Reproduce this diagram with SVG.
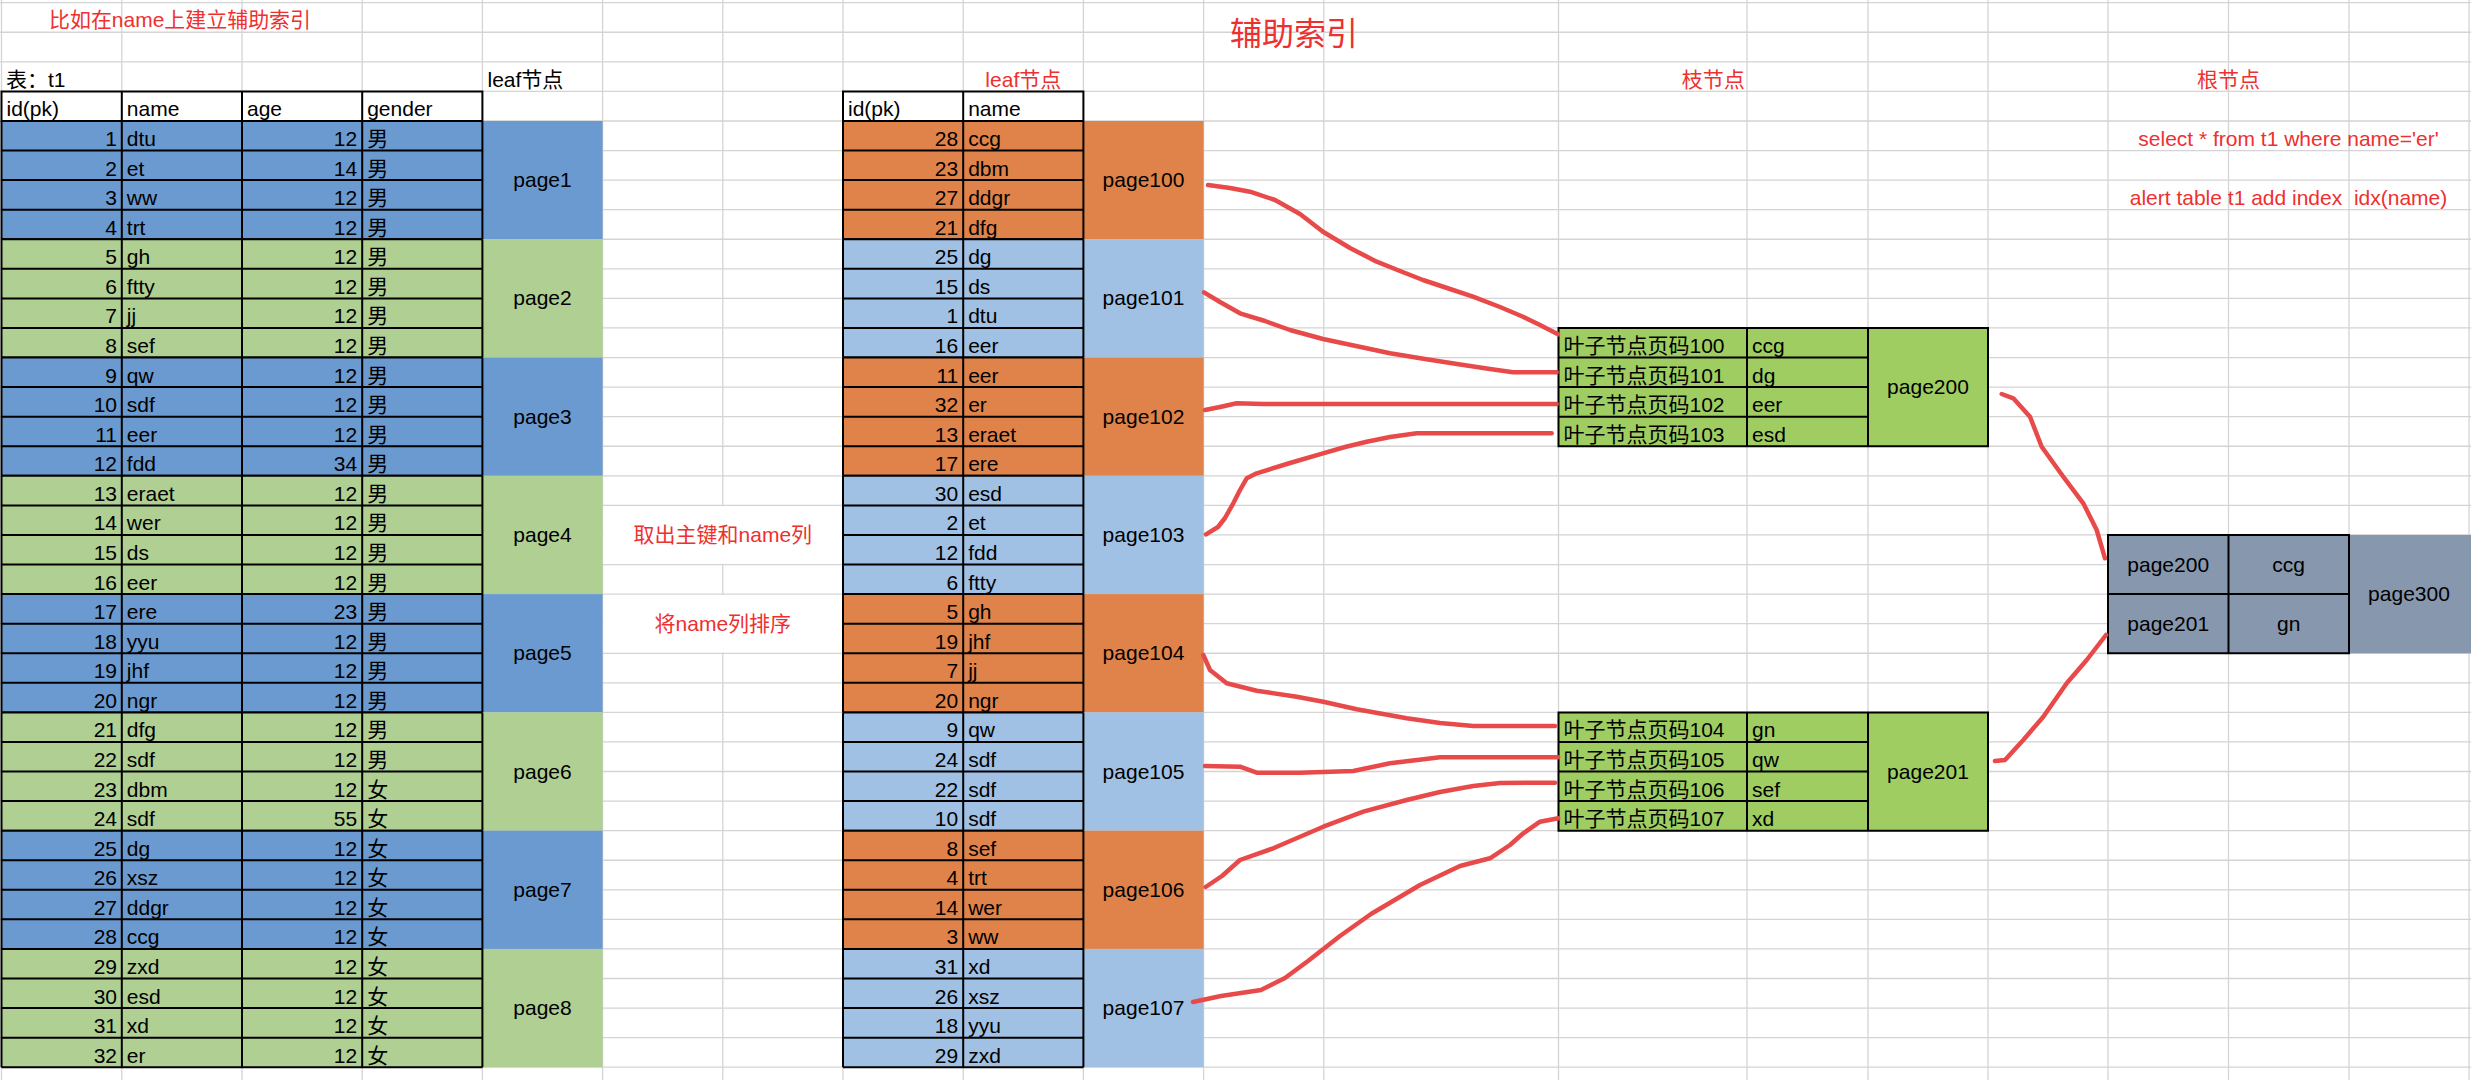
<svg xmlns="http://www.w3.org/2000/svg" xmlns:xlink="http://www.w3.org/1999/xlink" width="2471" height="1080" viewBox="0 0 2471 1080">
<style>
.grid{stroke:#d4d4d4;stroke-width:1.3;fill:none}
.b{stroke:#000;stroke-width:2;fill:none}
text{font-family:"Liberation Sans","Noto Sans CJK SC",sans-serif;font-size:21px;fill:#000}
.e{text-anchor:end}
.m{text-anchor:middle}
.red{fill:#ee3030}
.blue{fill:#6a9acf}
.green{fill:#afcf93}
.orange{fill:#e0834a}
.lblue{fill:#a1c1e4}
.bgreen{fill:#9fcd62}
.gray{fill:#8697ae}
.con{fill:none;stroke:#e84a4a;stroke-width:4.5;stroke-linecap:round;stroke-linejoin:round}
</style>
<defs>
<path id="bl" class="b" d="M1.5,0H482.4M1.5,29.57H482.4M1.5,59.14H482.4M1.5,88.71H482.4M1.5,118.28H482.4M1.5,0V118.28M121.8,0V118.28M242,0V118.28M362.2,0V118.28M482.4,0V118.28"/>
<path id="bf" class="b" d="M843,0H1083.4M843,29.57H1083.4M843,59.14H1083.4M843,88.71H1083.4M843,118.28H1083.4M843,0V118.28M963.2,0V118.28M1083.4,0V118.28"/>
<path id="bb" class="b" d="M1558.5,0H1988V118.28H1558.5ZM1558.5,29.57H1868M1558.5,59.14H1868M1558.5,88.71H1868M1747,0V118.28M1868,0V118.28"/>
</defs>
<rect width="2471" height="1080" fill="#fff"/>
<g id="grid">
<path class="grid" d="M1.5,0V1080M121.8,0V1080M242,0V1080M362.2,0V1080M482.4,0V1080M602.6,0V1080M722.8,0V1080M843,0V1080M963.2,0V1080M1083.4,0V1080M1203.6,0V1080M1323.8,0V1080M1558.5,0V1080M1747,0V1080M1868,0V1080M1988,0V1080M2108,0V1080M2228.5,0V1080M2349,0V1080M2469,0V1080"/>
<path class="grid" d="M0,2.7H2471M0,32.27H2471M0,61.84H2471M0,91.41H2471M0,120.98H2471M0,150.55H2471M0,180.12H2471M0,209.69H2471M0,239.26H2471M0,268.83H2471M0,298.4H2471M0,327.97H2471M0,357.54H2471M0,387.11H2471M0,416.68H2471M0,446.25H2471M0,475.82H2471M0,505.39H2471M0,534.96H2471M0,564.53H2471M0,594.1H2471M0,623.67H2471M0,653.24H2471M0,682.81H2471M0,712.38H2471M0,741.95H2471M0,771.52H2471M0,801.09H2471M0,830.66H2471M0,860.23H2471M0,889.8H2471M0,919.37H2471M0,948.94H2471M0,978.51H2471M0,1008.08H2471M0,1037.65H2471M0,1067.22H2471"/>
<rect x="603.4" y="506.2" width="238.8" height="57.6" fill="#fff"/>
<rect x="603.4" y="594.9" width="238.8" height="57.6" fill="#fff"/>
</g>
<g id="labels">
<text class="red" x="49" y="27" font-size="22" textLength="262" lengthAdjust="spacingAndGlyphs">比如在name上建立辅助索引</text>
<text class="red m" x="1294" y="45" style="font-size:32px">辅助索引</text>
<text x="6" y="86.9">表：t1</text>
<text x="487.5" y="86.9">leaf节点</text>
<text class="red m" x="1023.3" y="86.9">leaf节点</text>
<text class="red m" x="1713.2" y="86.9">枝节点</text>
<text class="red m" x="2228.5" y="86.9">根节点</text>
<text class="red m" x="2288.5" y="146">select * from t1 where name='er'</text>
<text class="red m" x="2288.5" y="205.2" style="white-space:pre">alert table t1 add index  idx(name)</text>
<text class="red m" x="722.8" y="542">取出主键和name列</text>
<text class="red m" x="722.8" y="630.7">将name列排序</text>
</g>
<g id="t1-table">
<g id="t1-header">
<rect x="1.5" y="91.41" width="480.9" height="29.57" fill="#fff"/>
<path class="b" d="M1.5,91.41H482.4V120.98H1.5ZM121.8,91.41V120.98M242,91.41V120.98M362.2,91.41V120.98"/>
<text x="6.5" y="116.48">id(pk)</text><text x="126.8" y="116.48">name</text><text x="247" y="116.48">age</text><text x="367.2" y="116.48">gender</text>
</g>
<g id="t1-page1" transform="translate(0,120.98)">
<rect class="blue" x="1.5" width="601.1" height="118.28"/><use xlink:href="#bl"/>
<text class="e" x="117" y="25.07">1</text><text x="126.8" y="25.07">dtu</text><text class="e" x="357.2" y="25.07">12</text><text x="367.2" y="25.07">男</text>
<text class="e" x="117" y="54.64">2</text><text x="126.8" y="54.64">et</text><text class="e" x="357.2" y="54.64">14</text><text x="367.2" y="54.64">男</text>
<text class="e" x="117" y="84.21">3</text><text x="126.8" y="84.21">ww</text><text class="e" x="357.2" y="84.21">12</text><text x="367.2" y="84.21">男</text>
<text class="e" x="117" y="113.78">4</text><text x="126.8" y="113.78">trt</text><text class="e" x="357.2" y="113.78">12</text><text x="367.2" y="113.78">男</text>
<text class="m" x="542.5" y="66.14">page1</text>
</g>
<g id="t1-page2" transform="translate(0,239.26)">
<rect class="green" x="1.5" width="601.1" height="118.28"/><use xlink:href="#bl"/>
<text class="e" x="117" y="25.07">5</text><text x="126.8" y="25.07">gh</text><text class="e" x="357.2" y="25.07">12</text><text x="367.2" y="25.07">男</text>
<text class="e" x="117" y="54.64">6</text><text x="126.8" y="54.64">ftty</text><text class="e" x="357.2" y="54.64">12</text><text x="367.2" y="54.64">男</text>
<text class="e" x="117" y="84.21">7</text><text x="126.8" y="84.21">jj</text><text class="e" x="357.2" y="84.21">12</text><text x="367.2" y="84.21">男</text>
<text class="e" x="117" y="113.78">8</text><text x="126.8" y="113.78">sef</text><text class="e" x="357.2" y="113.78">12</text><text x="367.2" y="113.78">男</text>
<text class="m" x="542.5" y="66.14">page2</text>
</g>
<g id="t1-page3" transform="translate(0,357.54)">
<rect class="blue" x="1.5" width="601.1" height="118.28"/><use xlink:href="#bl"/>
<text class="e" x="117" y="25.07">9</text><text x="126.8" y="25.07">qw</text><text class="e" x="357.2" y="25.07">12</text><text x="367.2" y="25.07">男</text>
<text class="e" x="117" y="54.64">10</text><text x="126.8" y="54.64">sdf</text><text class="e" x="357.2" y="54.64">12</text><text x="367.2" y="54.64">男</text>
<text class="e" x="117" y="84.21">11</text><text x="126.8" y="84.21">eer</text><text class="e" x="357.2" y="84.21">12</text><text x="367.2" y="84.21">男</text>
<text class="e" x="117" y="113.78">12</text><text x="126.8" y="113.78">fdd</text><text class="e" x="357.2" y="113.78">34</text><text x="367.2" y="113.78">男</text>
<text class="m" x="542.5" y="66.14">page3</text>
</g>
<g id="t1-page4" transform="translate(0,475.82)">
<rect class="green" x="1.5" width="601.1" height="118.28"/><use xlink:href="#bl"/>
<text class="e" x="117" y="25.07">13</text><text x="126.8" y="25.07">eraet</text><text class="e" x="357.2" y="25.07">12</text><text x="367.2" y="25.07">男</text>
<text class="e" x="117" y="54.64">14</text><text x="126.8" y="54.64">wer</text><text class="e" x="357.2" y="54.64">12</text><text x="367.2" y="54.64">男</text>
<text class="e" x="117" y="84.21">15</text><text x="126.8" y="84.21">ds</text><text class="e" x="357.2" y="84.21">12</text><text x="367.2" y="84.21">男</text>
<text class="e" x="117" y="113.78">16</text><text x="126.8" y="113.78">eer</text><text class="e" x="357.2" y="113.78">12</text><text x="367.2" y="113.78">男</text>
<text class="m" x="542.5" y="66.14">page4</text>
</g>
<g id="t1-page5" transform="translate(0,594.1)">
<rect class="blue" x="1.5" width="601.1" height="118.28"/><use xlink:href="#bl"/>
<text class="e" x="117" y="25.07">17</text><text x="126.8" y="25.07">ere</text><text class="e" x="357.2" y="25.07">23</text><text x="367.2" y="25.07">男</text>
<text class="e" x="117" y="54.64">18</text><text x="126.8" y="54.64">yyu</text><text class="e" x="357.2" y="54.64">12</text><text x="367.2" y="54.64">男</text>
<text class="e" x="117" y="84.21">19</text><text x="126.8" y="84.21">jhf</text><text class="e" x="357.2" y="84.21">12</text><text x="367.2" y="84.21">男</text>
<text class="e" x="117" y="113.78">20</text><text x="126.8" y="113.78">ngr</text><text class="e" x="357.2" y="113.78">12</text><text x="367.2" y="113.78">男</text>
<text class="m" x="542.5" y="66.14">page5</text>
</g>
<g id="t1-page6" transform="translate(0,712.38)">
<rect class="green" x="1.5" width="601.1" height="118.28"/><use xlink:href="#bl"/>
<text class="e" x="117" y="25.07">21</text><text x="126.8" y="25.07">dfg</text><text class="e" x="357.2" y="25.07">12</text><text x="367.2" y="25.07">男</text>
<text class="e" x="117" y="54.64">22</text><text x="126.8" y="54.64">sdf</text><text class="e" x="357.2" y="54.64">12</text><text x="367.2" y="54.64">男</text>
<text class="e" x="117" y="84.21">23</text><text x="126.8" y="84.21">dbm</text><text class="e" x="357.2" y="84.21">12</text><text x="367.2" y="84.21">女</text>
<text class="e" x="117" y="113.78">24</text><text x="126.8" y="113.78">sdf</text><text class="e" x="357.2" y="113.78">55</text><text x="367.2" y="113.78">女</text>
<text class="m" x="542.5" y="66.14">page6</text>
</g>
<g id="t1-page7" transform="translate(0,830.66)">
<rect class="blue" x="1.5" width="601.1" height="118.28"/><use xlink:href="#bl"/>
<text class="e" x="117" y="25.07">25</text><text x="126.8" y="25.07">dg</text><text class="e" x="357.2" y="25.07">12</text><text x="367.2" y="25.07">女</text>
<text class="e" x="117" y="54.64">26</text><text x="126.8" y="54.64">xsz</text><text class="e" x="357.2" y="54.64">12</text><text x="367.2" y="54.64">女</text>
<text class="e" x="117" y="84.21">27</text><text x="126.8" y="84.21">ddgr</text><text class="e" x="357.2" y="84.21">12</text><text x="367.2" y="84.21">女</text>
<text class="e" x="117" y="113.78">28</text><text x="126.8" y="113.78">ccg</text><text class="e" x="357.2" y="113.78">12</text><text x="367.2" y="113.78">女</text>
<text class="m" x="542.5" y="66.14">page7</text>
</g>
<g id="t1-page8" transform="translate(0,948.94)">
<rect class="green" x="1.5" width="601.1" height="118.28"/><use xlink:href="#bl"/>
<text class="e" x="117" y="25.07">29</text><text x="126.8" y="25.07">zxd</text><text class="e" x="357.2" y="25.07">12</text><text x="367.2" y="25.07">女</text>
<text class="e" x="117" y="54.64">30</text><text x="126.8" y="54.64">esd</text><text class="e" x="357.2" y="54.64">12</text><text x="367.2" y="54.64">女</text>
<text class="e" x="117" y="84.21">31</text><text x="126.8" y="84.21">xd</text><text class="e" x="357.2" y="84.21">12</text><text x="367.2" y="84.21">女</text>
<text class="e" x="117" y="113.78">32</text><text x="126.8" y="113.78">er</text><text class="e" x="357.2" y="113.78">12</text><text x="367.2" y="113.78">女</text>
<text class="m" x="542.5" y="66.14">page8</text>
</g>
</g>
<g id="leaf-table">
<g id="leaf-header">
<rect x="843" y="91.41" width="240.4" height="29.57" fill="#fff"/>
<path class="b" d="M843,91.41H1083.4V120.98H843ZM963.2,91.41V120.98"/>
<text x="848" y="116.48">id(pk)</text><text x="968.2" y="116.48">name</text>
</g>
<g id="leaf-page100" transform="translate(0,120.98)">
<rect class="orange" x="843" width="360.6" height="118.28"/><use xlink:href="#bf"/>
<text class="e" x="958.2" y="25.07">28</text><text x="968.2" y="25.07">ccg</text>
<text class="e" x="958.2" y="54.64">23</text><text x="968.2" y="54.64">dbm</text>
<text class="e" x="958.2" y="84.21">27</text><text x="968.2" y="84.21">ddgr</text>
<text class="e" x="958.2" y="113.78">21</text><text x="968.2" y="113.78">dfg</text>
<text class="m" x="1143.5" y="66.14">page100</text>
</g>
<g id="leaf-page101" transform="translate(0,239.26)">
<rect class="lblue" x="843" width="360.6" height="118.28"/><use xlink:href="#bf"/>
<text class="e" x="958.2" y="25.07">25</text><text x="968.2" y="25.07">dg</text>
<text class="e" x="958.2" y="54.64">15</text><text x="968.2" y="54.64">ds</text>
<text class="e" x="958.2" y="84.21">1</text><text x="968.2" y="84.21">dtu</text>
<text class="e" x="958.2" y="113.78">16</text><text x="968.2" y="113.78">eer</text>
<text class="m" x="1143.5" y="66.14">page101</text>
</g>
<g id="leaf-page102" transform="translate(0,357.54)">
<rect class="orange" x="843" width="360.6" height="118.28"/><use xlink:href="#bf"/>
<text class="e" x="958.2" y="25.07">11</text><text x="968.2" y="25.07">eer</text>
<text class="e" x="958.2" y="54.64">32</text><text x="968.2" y="54.64">er</text>
<text class="e" x="958.2" y="84.21">13</text><text x="968.2" y="84.21">eraet</text>
<text class="e" x="958.2" y="113.78">17</text><text x="968.2" y="113.78">ere</text>
<text class="m" x="1143.5" y="66.14">page102</text>
</g>
<g id="leaf-page103" transform="translate(0,475.82)">
<rect class="lblue" x="843" width="360.6" height="118.28"/><use xlink:href="#bf"/>
<text class="e" x="958.2" y="25.07">30</text><text x="968.2" y="25.07">esd</text>
<text class="e" x="958.2" y="54.64">2</text><text x="968.2" y="54.64">et</text>
<text class="e" x="958.2" y="84.21">12</text><text x="968.2" y="84.21">fdd</text>
<text class="e" x="958.2" y="113.78">6</text><text x="968.2" y="113.78">ftty</text>
<text class="m" x="1143.5" y="66.14">page103</text>
</g>
<g id="leaf-page104" transform="translate(0,594.1)">
<rect class="orange" x="843" width="360.6" height="118.28"/><use xlink:href="#bf"/>
<text class="e" x="958.2" y="25.07">5</text><text x="968.2" y="25.07">gh</text>
<text class="e" x="958.2" y="54.64">19</text><text x="968.2" y="54.64">jhf</text>
<text class="e" x="958.2" y="84.21">7</text><text x="968.2" y="84.21">jj</text>
<text class="e" x="958.2" y="113.78">20</text><text x="968.2" y="113.78">ngr</text>
<text class="m" x="1143.5" y="66.14">page104</text>
</g>
<g id="leaf-page105" transform="translate(0,712.38)">
<rect class="lblue" x="843" width="360.6" height="118.28"/><use xlink:href="#bf"/>
<text class="e" x="958.2" y="25.07">9</text><text x="968.2" y="25.07">qw</text>
<text class="e" x="958.2" y="54.64">24</text><text x="968.2" y="54.64">sdf</text>
<text class="e" x="958.2" y="84.21">22</text><text x="968.2" y="84.21">sdf</text>
<text class="e" x="958.2" y="113.78">10</text><text x="968.2" y="113.78">sdf</text>
<text class="m" x="1143.5" y="66.14">page105</text>
</g>
<g id="leaf-page106" transform="translate(0,830.66)">
<rect class="orange" x="843" width="360.6" height="118.28"/><use xlink:href="#bf"/>
<text class="e" x="958.2" y="25.07">8</text><text x="968.2" y="25.07">sef</text>
<text class="e" x="958.2" y="54.64">4</text><text x="968.2" y="54.64">trt</text>
<text class="e" x="958.2" y="84.21">14</text><text x="968.2" y="84.21">wer</text>
<text class="e" x="958.2" y="113.78">3</text><text x="968.2" y="113.78">ww</text>
<text class="m" x="1143.5" y="66.14">page106</text>
</g>
<g id="leaf-page107" transform="translate(0,948.94)">
<rect class="lblue" x="843" width="360.6" height="118.28"/><use xlink:href="#bf"/>
<text class="e" x="958.2" y="25.07">31</text><text x="968.2" y="25.07">xd</text>
<text class="e" x="958.2" y="54.64">26</text><text x="968.2" y="54.64">xsz</text>
<text class="e" x="958.2" y="84.21">18</text><text x="968.2" y="84.21">yyu</text>
<text class="e" x="958.2" y="113.78">29</text><text x="968.2" y="113.78">zxd</text>
<text class="m" x="1143.5" y="66.14">page107</text>
</g>
</g>
<g id="branch-page200" transform="translate(0,327.97)">
<rect class="bgreen" x="1558.5" width="429.5" height="118.28"/><use xlink:href="#bb"/>
<text x="1563.5" y="25.07">叶子节点页码100</text><text x="1752" y="25.07">ccg</text>
<text x="1563.5" y="54.64">叶子节点页码101</text><text x="1752" y="54.64">dg</text>
<text x="1563.5" y="84.21">叶子节点页码102</text><text x="1752" y="84.21">eer</text>
<text x="1563.5" y="113.78">叶子节点页码103</text><text x="1752" y="113.78">esd</text>
<text class="m" x="1928" y="66.14">page200</text>
</g>
<g id="branch-page201" transform="translate(0,712.38)">
<rect class="bgreen" x="1558.5" width="429.5" height="118.28"/><use xlink:href="#bb"/>
<text x="1563.5" y="25.07">叶子节点页码104</text><text x="1752" y="25.07">gn</text>
<text x="1563.5" y="54.64">叶子节点页码105</text><text x="1752" y="54.64">qw</text>
<text x="1563.5" y="84.21">叶子节点页码106</text><text x="1752" y="84.21">sef</text>
<text x="1563.5" y="113.78">叶子节点页码107</text><text x="1752" y="113.78">xd</text>
<text class="m" x="1928" y="66.14">page201</text>
</g>
<g id="root-page300" transform="translate(0,534.96)">
<rect class="gray" x="2108" width="363" height="118.28"/>
<path class="b" d="M2108,0H2349V118.28H2108ZM2108,59.14H2349M2228.5,0V118.28"/>
<text class="m" x="2168.2" y="36.6">page200</text><text class="m" x="2288.7" y="36.6">ccg</text>
<text class="m" x="2168.2" y="95.7">page201</text><text class="m" x="2288.7" y="95.7">gn</text>
<text class="m" x="2409" y="66.14">page300</text>
</g>
<g id="connectors">
<path class="con" d="M1208,185 L1230,188 L1250,191.7 L1275,200 L1300,214 L1323,231.7 L1350,248 L1376.7,261.7 L1400,271 L1423,280 L1450,289 L1473,296.7 L1500,307 L1523,316.7 L1540,325 L1558,334.3"/>
<path class="con" d="M1204,292.3 L1220,302 L1240,313.3 L1265,321 L1290,330 L1323,339 L1356,346 L1390,353.3 L1425,359 L1457,364 L1490,369 L1513,372.3 L1556.7,372.3"/>
<path class="con" d="M1205,410 L1220,407 L1236.7,403.3 L1263,404 L1556.7,404"/>
<path class="con" d="M1206,534.3 L1218,527 L1225,518 L1233.3,503.3 L1240,490 L1246.7,478.3 L1256.7,473.3 L1290,463 L1323,453.3 L1345,447 L1366.7,441.7 L1390,437 L1416.7,433.3 L1551.7,433.3"/>
<path class="con" d="M1203.3,655 L1210,670 L1226.7,683.3 L1256.7,690.7 L1296.7,696.7 L1323.3,701.7 L1356.7,709.3 L1406.7,718.3 L1440,723 L1473.3,726 L1555,726"/>
<path class="con" d="M1205,766 L1240,766.7 L1256.7,772.7 L1300,772.7 L1353.3,771 L1390,763.3 L1440,757.3 L1558.3,757.3"/>
<path class="con" d="M1205.6,887 L1222,876 L1240,860 L1273.3,848.3 L1323.3,826.7 L1363.3,811.7 L1406.7,800 L1440,792 L1473.3,786 L1500,783 L1555,782.7"/>
<path class="con" d="M1193,1002 L1221,996 L1261,990 L1285,978 L1308,961 L1340,936 L1371,914 L1420,885 L1460,866 L1490,858.3 L1510,845 L1523.3,833.3 L1540,821.7 L1558.3,818.3"/>
<path class="con" d="M2001.7,394 L2013.3,398.3 L2030,416.7 L2041.7,446.7 L2063.3,476.7 L2083.3,503.3 L2096.7,530 L2105,558.3"/>
<path class="con" d="M1995,761 L2005,760 L2023.3,740 L2043.3,716.7 L2066.7,683.3 L2086.7,660 L2106,635"/>
</g>
</svg>
